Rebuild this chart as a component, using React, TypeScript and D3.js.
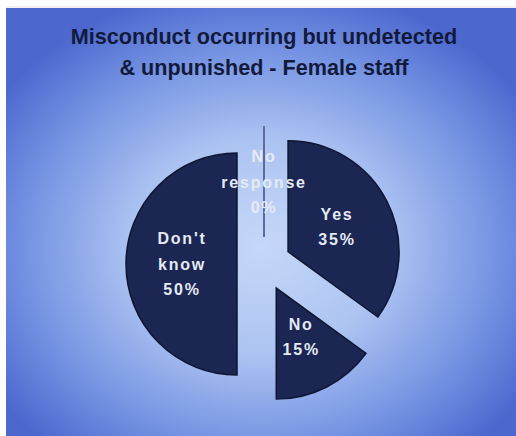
import React from "react";
import * as d3 from "d3";

const categories = ["Yes", "No", "Don't know", "No response"];
const values = [35, 15, 50, 0];
const labelLines = [["Yes", "35%"], ["No", "15%"], ["Don't", "know", "50%"], ["No", "response", "0%"]];
const titleLines = ["Misconduct occurring but undetected", "& unpunished - Female staff"];

const W = 516;
const H = 436;
const CX = 264;
const CY = 264;
const R = 111;
const EXPLODE = 27;

export default function App() {
  const pie = d3
    .pie<number>()
    .sort(null)
    .value((d) => d)
    .startAngle(0)
    .endAngle(2 * Math.PI);
  const arcs = pie(values);
  const arc = d3.arc<d3.PieArcDatum<number>>().innerRadius(0).outerRadius(R);
  const labelArc = d3.arc<d3.PieArcDatum<number>>().innerRadius(55).outerRadius(55);

  return (
    <svg width={W} height={H} style={{ position: "absolute", left: 0, top: 0, display: "block" }}>
      <defs>
        <radialGradient id="bg" cx="0.5" cy="0.56" r="0.62" fx="0.5" fy="0.56">
          <stop offset="0" stopColor="#c6d8f8" />
          <stop offset="0.4" stopColor="#adc4f2" />
          <stop offset="0.75" stopColor="#7492e2" />
          <stop offset="1" stopColor="#4c68cf" />
        </radialGradient>
      </defs>
      <rect x={0} y={0} width={W} height={H} fill="#ffffff" />
      <line x1={6} x2={W} y1={7} y2={7} stroke="#ecdde6" strokeWidth={1} />
      <rect x={6} y={8} width={W - 6} height={H - 8} fill="url(#bg)" />
      <g fontFamily="'Liberation Sans', Arial, sans-serif" fontWeight="bold" fontSize={21.6} fill="#121a3c" textAnchor="middle">
        {titleLines.map((t, i) => (
          <text key={i} x={CX} y={43.5 + i * 31.5}>
            {t}
          </text>
        ))}
      </g>
      {arcs.map((a, i) => {
        const mid = (a.startAngle + a.endAngle) / 2;
        const dx = Math.sin(mid) * EXPLODE;
        const dy = -Math.cos(mid) * EXPLODE;
        const [lx, ly] = labelArc.centroid(a);
        const lines = labelLines[i];
        const zero = a.endAngle - a.startAngle < 1e-9;
        return (
          <g key={categories[i]} transform={`translate(${CX + dx},${CY + dy})`}>
            {zero ? (
              <line
                x1={0}
                y1={0}
                x2={Math.sin(mid) * R}
                y2={-Math.cos(mid) * R}
                stroke="#5d6c9c"
                strokeWidth={2}
              />
            ) : (
              <path d={arc(a) || ""} fill="#1b2653" stroke="#0e1633" strokeWidth={1.5} />
            )}
            <g
              fontFamily="'Liberation Sans', Arial, sans-serif"
              fontWeight="bold"
              fontSize={16}
              letterSpacing={1.8}
              fill="#e6eaf4"
              textAnchor="middle"
            >
              {lines.map((t, j) => (
                <text key={j} x={lx} y={ly + (j - (lines.length - 1) / 2) * 25.5 + 5.5}>
                  {t}
                </text>
              ))}
            </g>
          </g>
        );
      })}
    </svg>
  );
}
